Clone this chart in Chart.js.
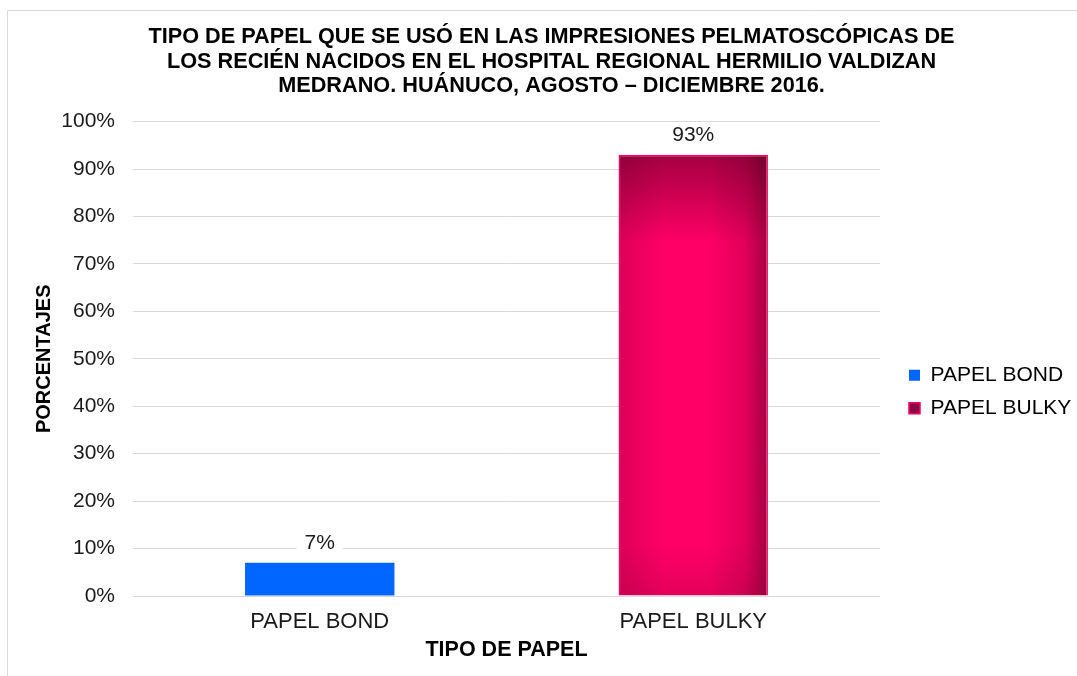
<!DOCTYPE html>
<html>
<head>
<meta charset="utf-8">
<script src="https://cdn.jsdelivr.net/npm/chart.js@4"></script>
<style>
  html, body { margin: 0; padding: 0; background: #ffffff; }
  canvas { display: block; }
</style>
</head>
<body>
<canvas id="c" width="1077" height="676"></canvas>
<script>
// ---- data ----
const categories = ['PAPEL BOND', 'PAPEL BULKY'];
const seriesNames = ['PAPEL BOND', 'PAPEL BULKY'];
const bondValues = [7, null];
const bulkyValues = [null, 93];
const yTickValues = [0, 10, 20, 30, 40, 50, 60, 70, 80, 90, 100];
const titleLines = [
  'TIPO DE PAPEL QUE SE USÓ EN LAS IMPRESIONES PELMATOSCÓPICAS DE',
  'LOS RECIÉN NACIDOS EN EL HOSPITAL REGIONAL HERMILIO VALDIZAN',
  'MEDRANO. HUÁNUCO, AGOSTO – DICIEMBRE 2016.'
];
const yAxisTitle = 'PORCENTAJES';
const xAxisTitle = 'TIPO DE PAPEL';

// ---- styles ----
const FONT = "'Liberation Sans', Arial, sans-serif";
const BOND_COLOR = '#0066FF';
const BULKY_COLOR = '#FF0066';
const GRID = '#d9d9d9';
const BAR_PCT = 0.4;

let bulkyPattern = null, bulkyKey = '';
function bulkyFill(ctx) {
  const c = ctx.chart;
  if (!c.chartArea || ctx.type !== 'data' || ctx.raw == null) return BULKY_COLOR;
  const xs = c.scales.x, ys = c.scales.y;
  const cx = xs.getPixelForValue(ctx.dataIndex);
  const half = (xs.width / categories.length) * BAR_PCT / 2;
  const l = cx - half, r = cx + half;
  const top = ys.getPixelForValue(ctx.raw), bot = ys.getPixelForValue(0);
  const key = [l, r, top, bot].join(',');
  if (bulkyPattern && key === bulkyKey) return bulkyPattern;
  const off = document.createElement('canvas');
  off.width = c.width; off.height = c.height;
  const o = off.getContext('2d');
  const w = r - l, h = bot - top;
  o.fillStyle = BULKY_COLOR;
  o.fillRect(l - 2, top - 2, w + 4, h + 4);
  const gh = o.createLinearGradient(l, 0, r, 0);
  gh.addColorStop(0, 'rgba(40,0,15,0.16)');
  gh.addColorStop(0.3, 'rgba(40,0,15,0)');
  gh.addColorStop(0.6, 'rgba(40,0,15,0)');
  gh.addColorStop(0.85, 'rgba(40,0,15,0.14)');
  gh.addColorStop(1, 'rgba(40,0,15,0.42)');
  o.fillStyle = gh;
  o.fillRect(l - 2, top - 2, w + 4, h + 4);
  const gv = o.createLinearGradient(0, top, 0, bot);
  gv.addColorStop(0, 'rgba(40,0,15,0.42)');
  gv.addColorStop(0.2, 'rgba(40,0,15,0)');
  gv.addColorStop(0.88, 'rgba(40,0,15,0)');
  gv.addColorStop(1, 'rgba(40,0,15,0.12)');
  o.fillStyle = gv;
  o.fillRect(l - 2, top - 2, w + 4, h + 4);
  bulkyPattern = c.ctx.createPattern(off, 'no-repeat');
  bulkyKey = key;
  return bulkyPattern;
}

const framePlugin = {
  id: 'frame',
  beforeDraw(chart) {
    const ctx = chart.ctx;
    ctx.save();
    ctx.fillStyle = '#ffffff';
    ctx.fillRect(0, 0, chart.width, chart.height);
    ctx.strokeStyle = GRID;
    ctx.lineWidth = 1;
    ctx.beginPath();
    ctx.moveTo(7.5, chart.height);
    ctx.lineTo(7.5, 10.5);
    ctx.lineTo(chart.width, 10.5);
    ctx.stroke();
    ctx.restore();
  }
};

const legendShift = {
  id: 'legendShift',
  afterLayout(chart) {
    const lg = chart.legend;
    if (lg) { lg.top += 33; lg.bottom += 33; }
  }
};

const valueLabels = {
  id: 'valueLabels',
  afterDatasetsDraw(chart) {
    const ctx = chart.ctx;
    ctx.save();
    ctx.font = '21px ' + FONT;
    ctx.textAlign = 'center';
    ctx.textBaseline = 'middle';
    chart.data.datasets.forEach((ds, di) => {
      const meta = chart.getDatasetMeta(di);
      meta.data.forEach((el, i) => {
        const v = ds.data[i];
        if (v == null) return;
        const txt = v + '%';
        const w = ctx.measureText(txt).width;
        const y = el.y - 20;
        ctx.fillStyle = '#ffffff';
        ctx.fillRect(el.x - w / 2 - 8, y - 12, w + 16, 24);
        ctx.fillStyle = '#1a1a1a';
        ctx.fillText(txt, el.x, y);
      });
    });
    ctx.restore();
  }
};

new Chart(document.getElementById('c'), {
  type: 'bar',
  data: {
    labels: categories,
    datasets: [
      {
        label: seriesNames[0],
        data: bondValues,
        backgroundColor: BOND_COLOR,
        borderWidth: 0,
        barPercentage: BAR_PCT,
        categoryPercentage: 1.0,
        skipNull: true
      },
      {
        label: seriesNames[1],
        data: bulkyValues,
        backgroundColor: bulkyFill,
        borderColor: BULKY_COLOR,
        borderWidth: 1.5,
        barPercentage: BAR_PCT,
        categoryPercentage: 1.0,
        skipNull: true
      }
    ]
  },
  options: {
    responsive: false,
    animation: false,
    devicePixelRatio: 1,
    layout: { padding: { left: 26, right: 0, top: 12, bottom: 13 } },
    plugins: {
      title: {
        display: true,
        text: titleLines,
        color: '#000000',
        font: { family: FONT, size: 21.7, weight: 'bold', lineHeight: 1.13 },
        padding: { top: 13, bottom: 23 }
      },
      legend: {
        position: 'right',
        fullSize: false,
        maxWidth: 180,
        labels: {
          boxWidth: 11,
          boxHeight: 11,
          padding: 12,
          color: '#000000',
          font: { family: FONT, size: 21 },
          generateLabels(chart) {
            return chart.data.datasets.map((ds, i) => ({
              text: ds.label,
              fillStyle: i === 0 ? BOND_COLOR : '#8A0A45',
              strokeStyle: i === 0 ? BOND_COLOR : BULKY_COLOR,
              lineWidth: i === 0 ? 0 : 1.5,
              hidden: !chart.isDatasetVisible(i),
              datasetIndex: i,
              fontColor: '#000000'
            }));
          }
        }
      },
      tooltip: { enabled: false }
    },
    scales: {
      x: {
        afterFit(s) { s.height = 67; },
        grid: { display: false, drawTicks: false },
        border: { display: false },
        ticks: { color: '#1a1a1a', font: { family: FONT, size: 22 }, padding: 13, maxRotation: 0 },
        title: {
          display: true, text: xAxisTitle, color: '#000000',
          font: { family: FONT, size: 21.5, weight: 'bold' },
          padding: { top: 3, bottom: 0 }
        }
      },
      y: {
        min: 0, max: 100,
        afterBuildTicks(s) { s.ticks = yTickValues.map(v => ({ value: v })); },
        afterFit(s) { s.width = 107; },
        grid: { color: GRID, lineWidth: 1, drawTicks: false },
        border: { display: false },
        ticks: {
          color: '#1a1a1a', font: { family: FONT, size: 21 }, padding: 18,
          callback: v => v + '%'
        },
        title: {
          display: true, text: yAxisTitle, color: '#000000',
          font: { family: FONT, size: 20, weight: 'bold' },
          padding: { top: 6, bottom: 0 }
        }
      },
      y2: {
        type: 'linear',
        position: 'right',
        display: true,
        grid: { display: false, drawTicks: false },
        border: { display: false },
        ticks: { display: false },
        afterFit(s) { s.width = 17; }
      }
    }
  },
  plugins: [framePlugin, legendShift, valueLabels]
});
</script>
</body>
</html>
